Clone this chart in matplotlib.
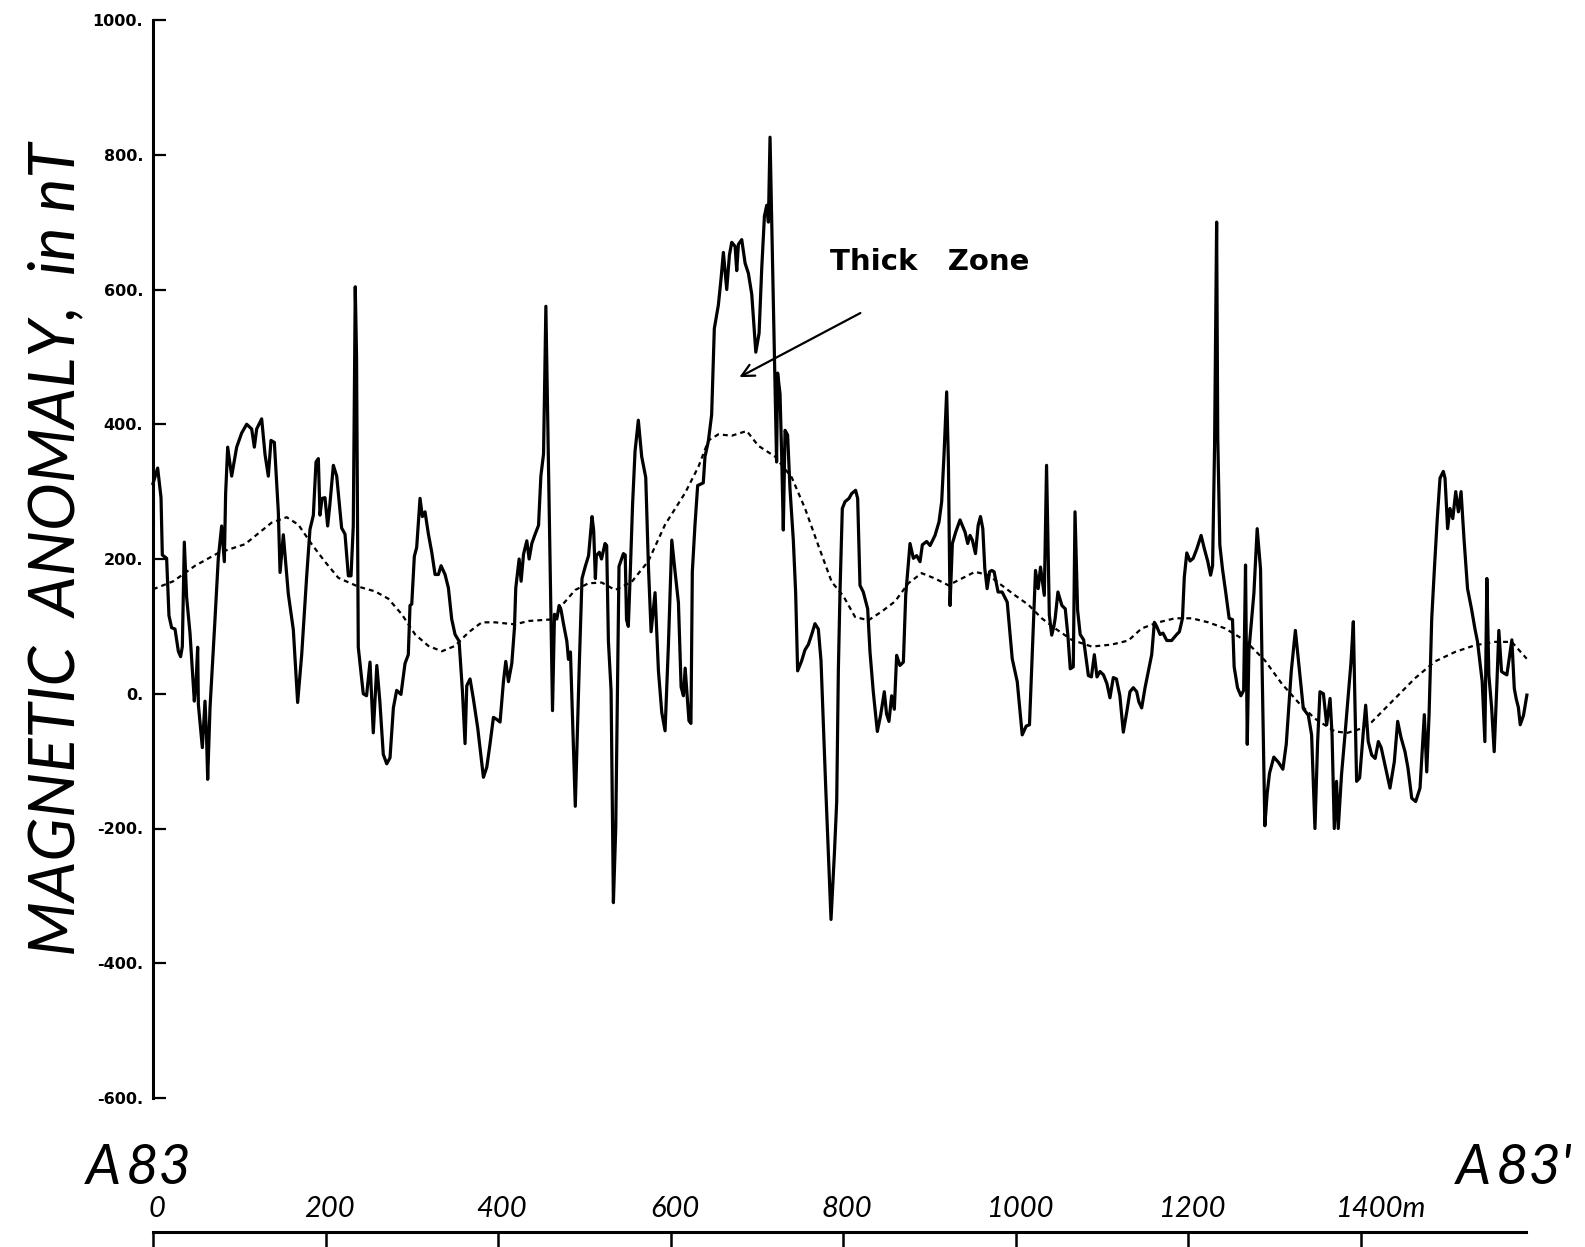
import matplotlib
matplotlib.use("Agg")
import matplotlib.pyplot as plt
from matplotlib.ticker import FuncFormatter
from matplotlib.transforms import ScaledTranslation

# Profile A83 - A83': distance along line (m) and magnetic anomaly (nT)
dist_obs = [
    0, 5.4, 9.3, 10.8, 15.8, 18.5, 21.6, 25.5, 29.4, 32, 34, 36.3, 39, 42.9, 47.9, 50, 51.8, 52.6,
    57.2, 60.3, 62, 63.4, 66.1, 71.9, 75.7, 79.6, 82.7, 84.2, 86.6, 91.2, 97, 102.8, 108.6, 114.4,
    117.5, 120.2, 126, 129.9, 133.7, 136.8, 140.7, 145.3, 147.3, 151.1, 156.9, 162.7, 167.7, 172.4,
    178.2, 182, 185.9, 189, 191.7, 193.6, 196, 199.4, 202.5, 205, 209.1, 213, 218.7, 222.6, 226.5,
    229.6, 232.2, 234.5, 236, 238, 243.8, 247.6, 251.6, 255.4, 259.5, 263, 267, 271, 274.8, 278.7,
    282.5, 287.5, 292.2, 296, 298, 300, 303, 305.7, 309.6, 312.3, 315.4, 319.3, 323.2, 327, 330.9,
    334, 338.6, 342.5, 346.3, 350.2, 354.9, 358.7, 361.8, 363.8, 367.6, 371.5, 376.5, 380.4, 383.1,
    387, 390.8, 394.7, 398.5, 402.4, 406.3, 409, 412.1, 416, 419.1, 420.6, 424.5, 426.8, 429.6,
    433.4, 436.1, 439.2, 443.1, 447, 449.7, 452.8, 455.5, 456.6, 459, 463.2, 465.5, 468.2, 470.9,
    473, 475.9, 479.8, 481.7, 484, 489.6, 491.5, 494.3, 497.4, 501.2, 505, 509, 510.9, 512.9, 514,
    517.5, 520, 524.1, 526, 528, 531.1, 533.8, 536.5, 540.3, 545.4, 547.5, 549, 551.1, 553, 556,
    558.9, 562.7, 566.6, 571.3, 574.4, 577.5, 582.1, 586, 589.9, 593.7, 597.6, 601.5, 605.3, 609.2,
    612.3, 615, 617, 621.4, 623.7, 625.3, 628.4, 631.5, 638, 640, 643.9, 647.7, 650.8, 653.5, 655.5,
    658.6, 661.3, 665.2, 668.3, 671, 674.9, 676.8, 678.7, 682.6, 686.5, 690.3, 694.2, 698.9, 702.7,
    705.8, 708.9, 711.6, 713.5, 715.4, 717.4, 719.3, 723, 724.2, 727, 728.9, 730.8, 732.8, 735.8,
    738.5, 742.4, 745.1, 747.4, 752.1, 755.9, 759.8, 763.7, 767.5, 771.4, 774.5, 777.2, 779.9, 783,
    786.1, 790, 792.7, 794.6, 796.5, 799.2, 802.3, 807, 810, 814.6, 817, 819.7, 823.5, 828.6, 831.3,
    835.1, 839.8, 843.6, 847.9, 850.5, 853.3, 856.4, 859.5, 862.2, 866, 870, 872.7, 877.7, 881.6,
    885.4, 889.3, 892, 897, 901, 906.7, 911.3, 914.4, 917.1, 920.2, 922.2, 924.1, 926.8, 930.7,
    935.7, 941.5, 944.6, 947.3, 950, 953.6, 956.7, 959.4, 962.1, 964.4, 967.1, 969.9, 972.5, 975.2,
    979.8, 984.5, 990.4, 993.1, 996.2, 1002, 1007.8, 1012.4, 1016.2, 1019.3, 1023.2, 1026.3, 1029,
    1032, 1033.4, 1036, 1039.2, 1042, 1044.5, 1046, 1049.2, 1053.8, 1057.7, 1060.7, 1063.5, 1067,
    1069, 1072, 1075, 1079, 1084.5, 1088, 1091.4, 1094.5, 1098, 1102, 1106, 1109.5, 1113.4, 1117,
    1121, 1125, 1129, 1132.7, 1136.6, 1140.5, 1143, 1146.3, 1150.2, 1154, 1157.9, 1161, 1163.7,
    1167.6, 1171, 1175.4, 1181, 1186.9, 1190, 1193.6, 1195.7, 1198.6, 1202.4, 1206, 1210.2, 1215.2,
    1219, 1222.8, 1226.2, 1228.5, 1230.8, 1233.2, 1234.5, 1236.9, 1240, 1243.9, 1247.7, 1251.6,
    1253.5, 1257.4, 1261.3, 1264.5, 1266.7, 1268.7, 1270.6, 1276.4, 1280.2, 1284.1, 1286, 1289.1,
    1291.8, 1294.5, 1299.5, 1305, 1310, 1313.9, 1319.7, 1324.5, 1329.8, 1333.7, 1339.5, 1343.3,
    1347.2, 1350.3, 1353, 1357, 1360.8, 1364.7, 1367, 1369.6, 1372.2, 1374.2, 1378, 1382, 1386,
    1389, 1391.7, 1393.5, 1395.5, 1399, 1403.3, 1406, 1409, 1413, 1417, 1420.7, 1424, 1428.4,
    1434.2, 1439.2, 1443.1, 1447, 1451.6, 1455, 1459.4, 1464, 1469, 1474, 1476.8, 1479.5, 1482.6,
    1485.7, 1489, 1492.2, 1496, 1498, 1501, 1503.7, 1507, 1510.4, 1513.5, 1516.6, 1520, 1524.1,
    1528.7, 1532.6, 1535.7, 1541.1, 1544.2, 1546.5, 1548.8, 1552, 1555, 1558, 1560.4, 1563.5, 1567,
    1569.7, 1575.5, 1578.3, 1580.6, 1583, 1585.2, 1589, 1592.9,
]
anomaly_obs = [
    312, 335, 291, 206, 201, 116, 98, 96, 63, 55, 70, 225, 143, 90, -11, 20, 69, -16,
    -80, -11, -60, -127, -21, 111, 201, 249, 196, 297, 366, 323, 366, 387, 400, 393,
    366, 393, 408, 355, 323, 376, 373, 270, 180, 236, 148, 95, -13, 58,
    175, 244, 265, 344, 349, 265, 290, 291, 249, 280, 339, 323, 246, 237, 175,
    175, 249, 604, 500, 69, 0, -3, 47, -58, 42, -11, -90, -104, -95, -21,
    5, -1, 45, 58, 131, 133, 204, 217, 290, 263, 270, 237, 210, 177, 177,
    190, 177, 157, 111, 88, 78, 5, -74, 12, 22, -8, -51, -94, -124,
    -109, -74, -35, -38, -42, 18, 48, 18, 45, 98, 157, 200, 167, 207,
    227, 200, 223, 237, 250, 323, 356, 575, 489, 300, -25, 118, 111, 131,
    125, 104, 78, 51, 62, -167, -80, 45, 171, 189, 205, 263, 243, 171, 205,
    210, 200, 223, 220, 78, 5, -310, -200, 189, 208, 206, 110, 100, 166, 280,
    360, 406, 352, 321, 189, 92, 150, 34, -28, -55, 73, 228, 181, 135,
    10, -3, 38, -40, -44, 181, 251, 309, 313, 352, 375, 414, 542, 562, 577,
    616, 655, 600, 651, 670, 664, 628, 667, 674, 639, 624, 593, 507, 535,
    632, 709, 725, 700, 826, 694, 577, 344, 476, 445, 353, 243, 391, 384,
    305, 228, 150, 34, 49, 65, 73, 88, 104, 96, 49, -44, -137, -238,
    -335, -238, -160, 34, 150, 275, 285, 290, 297, 302, 290, 161, 151, 126, 62,
    3, -56, -32, 3, -30, -41, -3, -23, 57, 42, 47, 146, 223, 201,
    205, 196, 221, 226, 220, 235, 255, 285, 354, 448, 344, 131, 223, 240,
    258, 240, 223, 235, 228, 208, 250, 263, 245, 186, 156, 181, 183, 181,
    151, 151, 136, 97, 52, 18, -61, -48, -46, 57, 183, 156, 188,
    160, 146, 339, 117, 87, 100, 112, 151, 131, 126, 87, 37, 40,
    270, 124, 88, 80, 27, 25, 58, 25, 33, 28, 15, -6, 24, 22,
    -3, -57, -27, 3, 9, 3, -12, -21, 9, 33, 58, 106, 100,
    88, 90, 79, 79, 88, 92, 112, 173, 209, 197, 201, 215, 235,
    215, 197, 176, 190, 367, 700, 380, 221, 185, 149, 112, 110,
    40, 9, -3, 5, 191, -75, 64, 149, 245, 185, 33, -196,
    -148, -118, -94, -102, -112, -75, 33, 94, 28, -22, -32, -61,
    -200, -71, 3, 0, -46, -7, -60, -200, -130, -200, -120, -61, 0,
    47, 107, -10, -130, -125, -56, -17, -71, -91, -96, -71, -80, -106,
    -140, -101, -41, -65, -86, -110, -155, -160, -140, -31, -116, -31, 112,
    186, 260, 320, 330, 320, 245, 275, 260, 300, 270, 300, 230, 156,
    126, 97, 77, 18, -71, 171, 28, -20, -86, 10, 94, 33, 30,
    28, 80, 8, -8, -20, -46, -32, -2,
]

# Smoothed (regional) anomaly, dashed curve
dist_smooth = [
    0, 23.6, 48.8, 75.7, 106.7, 137.6, 155, 168.5, 184, 199.4, 214.9, 238, 257.4, 272.9, 288.4,
    303.9, 319.3, 334.8, 350.2, 365.7, 381.2, 396.6, 419.8, 435.3, 458.5, 466.3, 474, 489.5, 505,
    520.4, 535.8, 555, 574.4, 593.7, 616.9, 632.4, 644, 655.5, 671, 688.4, 701.9, 721.2, 740.6,
    756, 771.4, 786.9, 800.4, 814, 829.4, 844.9, 860.3, 875.8, 891.2, 906.7, 922.2, 937.6, 953.1,
    968.6, 984, 999.5, 1015, 1030.4, 1045.9, 1065.2, 1088.4, 1111.6, 1130.9, 1146.3, 1165.7, 1185,
    1204.3, 1223.6, 1243, 1266.2, 1289.4, 1308.7, 1328, 1347.2, 1370.4, 1385, 1400, 1413, 1440,
    1463.2, 1486.4, 1509.6, 1532.8, 1556, 1575.3, 1592.7,
]
anomaly_smooth = [
    155, 167, 190, 209, 222, 254, 262, 251, 222, 196, 172, 159, 152, 141, 118,
    88, 71, 63, 71, 91, 106, 106, 103, 108, 110, 111, 131, 154, 164,
    165, 154, 166, 197, 251, 298, 337, 376, 385, 383, 390, 368, 352, 321,
    275, 220, 166, 145, 114, 109, 122, 137, 164, 179, 171, 161, 171, 181,
    176, 161, 146, 132, 112, 97, 80, 70, 73, 79, 97, 106, 112,
    112, 106, 97, 79, 49, 15, -13, -37, -56, -58, -52, -42, -7,
    23, 48, 62, 72, 77, 77, 52,
]

y_ticks = [-600, -400, -200, 0, 200, 400, 600, 800, 1000]
x_ticks = [0, 200, 400, 600, 800, 1000, 1200, 1400]
x_tick_labels = ["0", "200", "400", "600", "800", "1000", "1200", "1400m"]

W, H = 1585, 1247
fig = plt.figure(figsize=(W / 100, H / 100), dpi=100)
fig.patch.set_facecolor("white")

hand = dict(family=["Lato", "DejaVu Sans"], style="italic", weight="normal",
            color="black")

# Main profile axes
ax = fig.add_axes([153 / W, 1 - 1098 / H, 1380 / W, (1098 - 20) / H])
ax.set_xlim(0, 1600)
ax.set_ylim(-600, 1000)
for s in ("top", "right", "bottom"):
    ax.spines[s].set_visible(False)
ax.spines["left"].set_linewidth(2.2)
ax.set_xticks([])
ax.set_yticks(y_ticks)
ax.yaxis.set_major_formatter(FuncFormatter(lambda v, p: f"{int(v)}."))
ax.tick_params(axis="y", direction="in", length=9.5, width=1.6, pad=7,
               labelsize=11.5)
for lbl in ax.get_yticklabels():
    lbl.set_fontweight("bold")
    lbl.set_family("DejaVu Sans")

ax.plot(dist_obs, anomaly_obs, color="black", lw=2.3, solid_joinstyle="round",
        clip_on=False)
ax.plot(dist_smooth, anomaly_smooth, color="black", lw=1.6,
        linestyle=(0, (2.2, 1.8)), clip_on=False)

ax.text(785, 629, "Thick   Zone", fontsize=21, fontweight="bold",
        family="DejaVu Sans", va="baseline", ha="left")
ax.annotate("", xy=(677, 468), xytext=(823, 567),
            arrowprops=dict(arrowstyle="->", lw=1.6, color="black",
                            mutation_scale=22))

# Distance scale along the bottom
ax2 = fig.add_axes([153 / W, 0, 1380 / W, (1247 - 1232) / H])
ax2.set_xlim(0, 1600)
ax2.set_ylim(0, 1)
for s in ("left", "right", "bottom"):
    ax2.spines[s].set_visible(False)
ax2.spines["top"].set_linewidth(2.2)
ax2.spines["top"].set_bounds(0, 1592)
ax2.set_yticks([])
ax2.xaxis.tick_top()
ax2.set_xticks(x_ticks)
ax2.set_xticklabels(x_tick_labels)
ax2.tick_params(axis="x", direction="in", length=12, width=1.8, pad=7,
                labelsize=21)
ax2.patch.set_alpha(0)
for lbl in ax2.get_xticklabels():
    lbl.set_family(hand["family"])
    lbl.set_style("italic")
    lbl.set_weight("normal")
    lbl.set_transform(lbl.get_transform() +
                      ScaledTranslation(4 / 100, 0, fig.dpi_scale_trans))
last = ax2.get_xticklabels()[-1]
last.set_transform(last.get_transform() +
                   ScaledTranslation(16 / 100, 0, fig.dpi_scale_trans))

# Profile end labels and axis title
fig.text(86 / W, 1 - 1184 / H, "A\u200983", fontsize=40, va="baseline", ha="left", **hand)
fig.text(1456 / W, 1 - 1184 / H, "A\u200983'", fontsize=40, va="baseline", ha="left", **hand)
fig.text(56 / W, 1 - 549 / H, "MAGNETIC  ANOMALY,  in nT", rotation=90,
         ha="center", va="center", fontsize=46, **hand)

fig.savefig("out.png", dpi=100, facecolor="white")
